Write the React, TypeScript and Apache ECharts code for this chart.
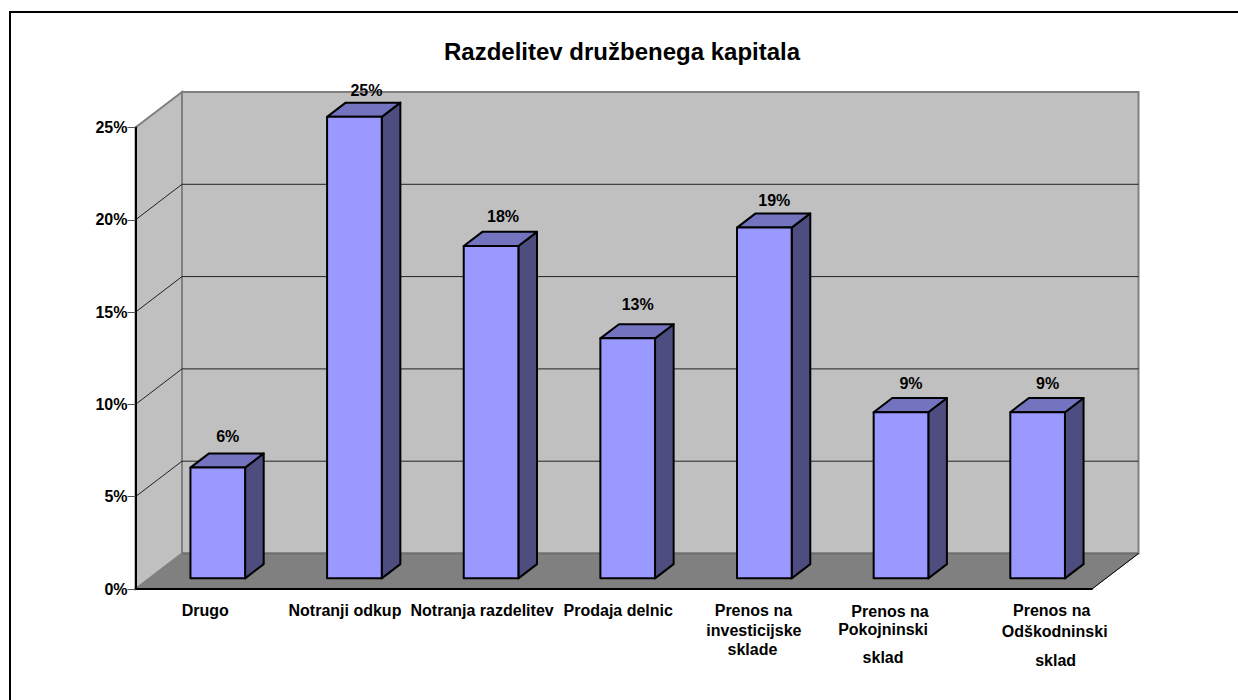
import React, { useEffect, useRef } from "react";
import * as echarts from "echarts";

const titleText = "Razdelitev družbenega kapitala";
const categories = [
  "Drugo",
  "Notranji odkup",
  "Notranja razdelitev",
  "Prodaja delnic",
  "Prenos na investicijske sklade",
  "Prenos na Pokojninski sklad",
  "Prenos na Odškodninski sklad",
];
const values = [6, 25, 18, 13, 19, 9, 9];
const gridTicks = [5, 10, 15, 20];

// Wrapped lines of each category label
const categoryLines = [
  ["Drugo"],
  ["Notranji odkup"],
  ["Notranja razdelitev"],
  ["Prodaja delnic"],
  ["Prenos na", "investicijske", "sklade"],
  ["Prenos na", "Pokojninski", "sklad"],
  ["Prenos na", "Odškodninski", "sklad"],
];

// Layout only: horizontal shift and line height of each label line
const lineShifts = [[1.5], [4.5], [5], [4.5], [3, 3.5, 2], [3, -4, -4], [28, 31, 32]];
const lineHeights = [[20], [20], [20], [20], [20, 20, 18], [23, 12, 44], [20, 23, 34]];
// Layout only: lift and sideways shift of each value label above the bar's top
const labelLifts = [17, 12, 15, 20, 13, 15, 15];
const labelShifts = [10, 12, 12, 10, 10, 10, 10];

const FONT = "'Liberation Sans', Arial, sans-serif";
const LABEL_SIZE = 16;
const DEPTH_X = 46.5;
const DEPTH_Y = -35.5;
const BAR_FRONT = 0.3;
const BAR_DEPTH = 0.4;
const BAR_WIDTH = 0.4;
const WALL = "#c0c0c0";
const FLOOR = "#808080";
const EDGE = "#808080";

function buildRich() {
  const rich: Record<string, any> = {};
  categoryLines.forEach((lines, c) =>
    lines.forEach((_, l) => {
      const s = lineShifts[c][l];
      rich[`c${c}l${l}`] = {
        fontFamily: FONT,
        fontWeight: "bold",
        fontSize: LABEL_SIZE,
        color: "#000",
        lineHeight: lineHeights[c][l],
        padding: s >= 0 ? [0, 0, 0, s * 2] : [0, -s * 2, 0, 0],
      };
    })
  );
  return rich;
}

function renderWalls(params: any) {
  const { x, y, width, height } = params.coordSys;
  const b = y + height;
  const r = x + width;
  const dx = DEPTH_X;
  const dy = DEPTH_Y;
  const edge = { stroke: EDGE, lineWidth: 2, fill: WALL };
  return {
    type: "group",
    children: [
      { type: "polygon", shape: { points: [[x, b], [x, y], [x + dx, y + dy], [x + dx, b + dy]] }, style: edge },
      { type: "polygon", shape: { points: [[x + dx, y + dy], [r + dx, y + dy], [r + dx, b + dy], [x + dx, b + dy]] }, style: edge },
      { type: "polygon", shape: { points: [[x, b], [x + dx, b + dy], [r + dx, b + dy], [r, b]] }, style: { fill: FLOOR, stroke: FLOOR, lineWidth: 1 } },
      { type: "line", shape: { x1: x + dx, y1: b + dy, x2: r + dx, y2: b + dy }, style: { stroke: "#6e6e6e", lineWidth: 2 } },
      { type: "line", shape: { x1: r, y1: b, x2: r + dx, y2: b + dy }, style: { stroke: "#000", lineWidth: 1 } },
    ],
  };
}

function renderGrid(params: any, api: any) {
  const { x, width } = params.coordSys;
  const yy = api.coord([0, api.value(1)])[1];
  return {
    type: "polyline",
    shape: { points: [[x, yy], [x + DEPTH_X, yy + DEPTH_Y], [x + width + DEPTH_X, yy + DEPTH_Y]] },
    style: { stroke: "#222", lineWidth: 1, fill: "none" },
  };
}

function renderBar(params: any, api: any) {
  const i = api.value(0);
  const v = api.value(1);
  const band = api.size([1, 0])[0];
  const base = api.coord([i, 0]);
  const tip = api.coord([i, v]);
  const w = band * BAR_WIDTH;
  const l = base[0] - w / 2 + DEPTH_X * BAR_FRONT;
  const r = l + w;
  const bottom = base[1] + DEPTH_Y * BAR_FRONT;
  const top = tip[1] + DEPTH_Y * BAR_FRONT;
  const ddx = DEPTH_X * BAR_DEPTH;
  const ddy = DEPTH_Y * BAR_DEPTH;
  const line = { stroke: "#000", lineWidth: 2, lineJoin: "round" };
  return {
    type: "group",
    children: [
      { type: "polygon", shape: { points: [[r, top], [r + ddx, top + ddy], [r + ddx, bottom + ddy], [r, bottom]] }, style: { fill: "#4d4d80", ...line } },
      { type: "polygon", shape: { points: [[l, top], [l + ddx, top + ddy], [r + ddx, top + ddy], [r, top]] }, style: { fill: "#7373bf", ...line } },
      { type: "polygon", shape: { points: [[l, top], [r, top], [r, bottom], [l, bottom]] }, style: { fill: "#9999ff", ...line } },
      {
        type: "text",
        x: (l + r) / 2 + labelShifts[params.dataIndex],
        y: top + ddy - labelLifts[params.dataIndex],
        style: {
          text: `${v}%`,
          fontFamily: FONT,
          fontWeight: "bold",
          fontSize: LABEL_SIZE,
          fill: "#000",
          textAlign: "center",
          textVerticalAlign: "middle",
        },
      },
    ],
  };
}

export default function App() {
  const ref = useRef<HTMLDivElement>(null);
  useEffect(() => {
    const chart = echarts.init(ref.current!, undefined, { renderer: "svg" });
    chart.setOption({
      animation: false,
      backgroundColor: "#fff",
      title: {
        text: titleText,
        left: 617,
        top: 34,
        textAlign: "center",
        textStyle: { fontFamily: FONT, fontWeight: "bold", fontSize: 24, color: "#000" },
      },
      graphic: [
        {
          type: "polyline",
          shape: { points: [[10, 701], [10, 12], [1239, 12]] },
          style: { stroke: "#000", lineWidth: 2, fill: "none" },
        },
      ],
      grid: { left: 135.5, top: 127.5, width: 956.5, height: 461.5 },
      xAxis: {
        type: "category",
        data: categories,
        z: 3,
        axisLine: { lineStyle: { color: "#000", width: 2 } },
        axisTick: { length: 8, lineStyle: { color: "#444", width: 1 } },
        axisLabel: {
          interval: 0,
          margin: 11,
          verticalAlign: "top",
          rich: buildRich(),
          formatter: (_: string, c: number) =>
            categoryLines[c].map((t, l) => `{c${c}l${l}|${t}}`).join("\n"),
        },
      },
      yAxis: {
        type: "value",
        min: 0,
        max: 25,
        interval: 5,
        z: 3,
        axisLine: { show: true, lineStyle: { color: "#000", width: 2 } },
        axisTick: { show: true, length: 8, lineStyle: { color: "#555", width: 1 } },
        splitLine: { show: false },
        axisLabel: {
          margin: 8,
          formatter: "{value}%",
          fontFamily: FONT,
          fontWeight: "bold",
          fontSize: LABEL_SIZE,
          color: "#000",
        },
      },
      series: [
        { type: "custom", z: 1, silent: true, renderItem: renderWalls, data: [[0, 0]] },
        { type: "custom", z: 2, silent: true, renderItem: renderGrid, data: gridTicks.map((t) => [0, t]) },
        { type: "custom", z: 5, silent: true, renderItem: renderBar, data: values.map((v, i) => [i, v]) },
      ],
    });
    return () => chart.dispose();
  }, []);
  return <div ref={ref} style={{ position: "fixed", left: 0, top: 0, width: 1238, height: 700 }} />;
}
